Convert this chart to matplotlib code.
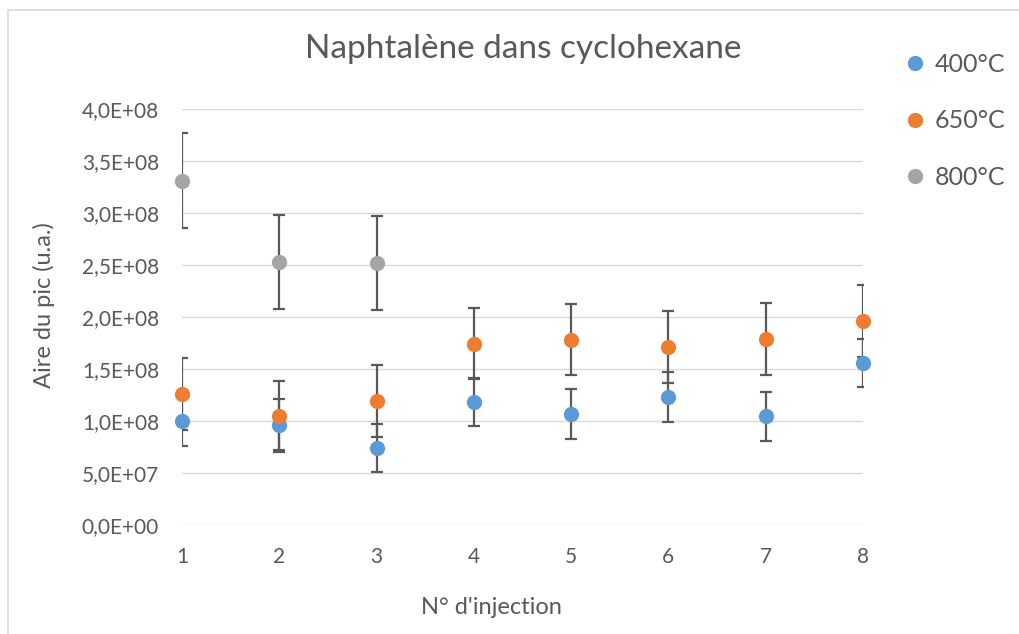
import matplotlib
matplotlib.use("Agg")
import matplotlib.pyplot as plt
from matplotlib.ticker import FuncFormatter
from matplotlib.patches import Rectangle
from matplotlib.lines import Line2D

# data
injections = [1, 2, 3, 4, 5, 6, 7, 8]

area_400 = [0.996e8, 0.964e8, 0.739e8, 1.179e8, 1.067e8, 1.231e8, 1.044e8, 1.558e8]
err_400 = [0.24e8, 0.245e8, 0.23e8, 0.23e8, 0.236e8, 0.236e8, 0.236e8, 0.235e8]

area_650 = [1.256e8, 1.044e8, 1.19e8, 1.745e8, 1.783e8, 1.709e8, 1.79e8, 1.963e8]
err_650 = [0.345e8, 0.34e8, 0.345e8, 0.34e8, 0.344e8, 0.345e8, 0.344e8, 0.343e8]

inj_800 = [1, 2, 3]
area_800 = [3.31e8, 2.53e8, 2.52e8]
err_800 = [0.455e8, 0.455e8, 0.45e8]

labels = ["400°C", "650°C", "800°C"]
colors = ["#5B9BD5", "#ED7D31", "#A5A5A5"]

TXT = "#595959"
plt.rcParams['font.family'] = ['Lato', 'DejaVu Sans']

W, H = 1019, 634
fig = plt.figure(figsize=(W / 100, H / 100), dpi=100)
ax = fig.add_axes([182 / W, 1 - 525 / H, (863 - 182) / W, (525 - 109) / H])

# light frame round the chart (only top/left show in the reference)
fig.patches.append(Rectangle((7.5 / W, -0.1), 2, 1.1 - 10.5 / H, transform=fig.transFigure,
                             fill=False, edgecolor="#d9d9d9", lw=1.2))

series = [(injections, area_400, err_400), (injections, area_650, err_650), (inj_800, area_800, err_800)]

for (x, y, e), c in zip(series, colors):
    ax.errorbar(x, y, yerr=e, fmt="none", ecolor="#595959", elinewidth=1.6,
                capsize=4, capthick=1.6, zorder=3)
for (x, y, e), c in zip(series, colors):
    ax.plot(x, y, "o", color=c, markersize=11, markeredgewidth=0, zorder=4, clip_on=False)

ax.set_xlim(1, 8)
ax.set_ylim(0, 4e8)
ax.set_xticks(injections)
ax.set_yticks([i * 0.5e8 for i in range(9)])


def sci_fmt(v, pos):
    if v == 0:
        return "0,0E+00"
    exp = len(str(int(abs(v)))) - 1
    return ("%.1fE+%02d" % (v / 10 ** exp, exp)).replace(".", ",")


ax.yaxis.set_major_formatter(FuncFormatter(sci_fmt))
ax.grid(axis="y", color="#d9d9d9", lw=1)
ax.set_axisbelow(True)
for s in ax.spines.values():
    s.set_visible(False)
ax.tick_params(length=0, labelsize=15, labelcolor=TXT)
ax.tick_params(axis="y", pad=16.5)
ax.tick_params(axis="x", pad=16)

fig.text(523 / W, 1 - 58 / H, "Naphtalène dans cyclohexane", fontsize=24, color=TXT,
         ha="center", va="baseline")
ax.set_xlabel("N° d'injection", fontsize=17, color=TXT)
ax.xaxis.set_label_coords((491 - 182) / 681, -(597 - 525) / 416)
fig.text(44 / W, 1 - 305 / H, "Aire du pic (u.a.)", fontsize=17, color=TXT,
         rotation=90, ha="center", va="center")

handles = [Line2D([], [], marker="o", ls="none", color=c, markersize=11, markeredgewidth=0)
           for c in colors]
fig.legend(handles, labels, loc="upper left", bbox_to_anchor=(895 / W, 1 - 40 / H),
           frameon=False, fontsize=18, labelcolor=TXT, handlelength=0.6,
           handletextpad=0.5, labelspacing=1.35, borderpad=0)

fig.savefig("out.png", dpi=100)
